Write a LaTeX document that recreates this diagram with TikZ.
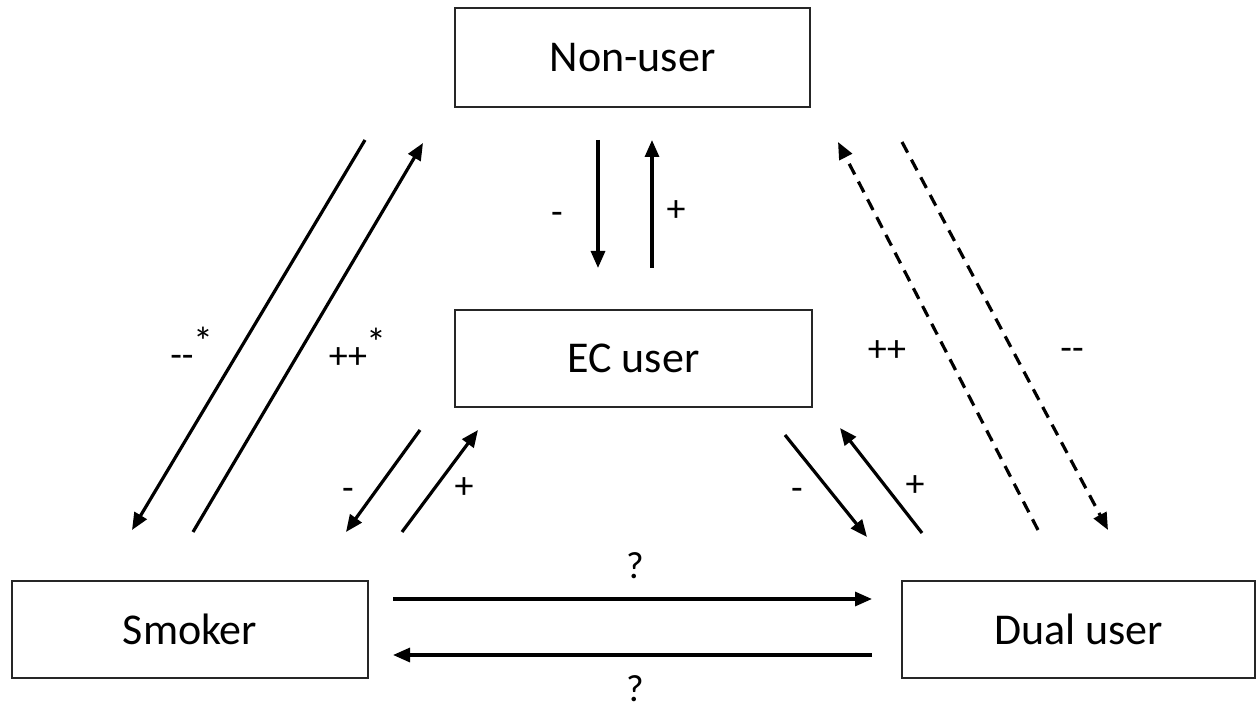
\documentclass[tikz,border=0pt]{standalone}
\usepackage{fontspec}
\setmainfont{Carlito}
\usetikzlibrary{arrows.meta}
\begin{document}
\begin{tikzpicture}[x=1pt,y=-1pt,
  statebox/.style={draw=black!85,line width=2pt,inner sep=0pt,
    font=\fontsize{44}{50}\selectfont},
  flow/.style={line width=3.2pt,-{Triangle[length=17pt,width=14pt]}},
  dflow/.style={flow,dash pattern=on 12pt off 8pt},
  lab/.style={font=\fontsize{38}{42}\selectfont,inner sep=0pt},
  star/.style={font=\fontsize{40}{44}\selectfont,inner sep=0pt}]
\useasboundingbox (0,0) rectangle (1256,708);
\node[statebox,minimum width=355pt,minimum height=99pt] (non) at (632.5,57.5) {Non-user};
\node[statebox,minimum width=357pt,minimum height=97pt] (ec) at (633.5,358.5) {EC user};
\node[statebox,minimum width=356pt,minimum height=97pt] (smk) at (190,629.5) {Smoker};
\node[statebox,minimum width=353pt,minimum height=97pt] (dual) at (1078.5,629.5) {Dual user};
% endpoints
\coordinate (a1s) at (365,140); \coordinate (a1e) at (132,530);
\coordinate (a2s) at (193,532); \coordinate (a2e) at (423,143);
\coordinate (a3s) at (598,140); \coordinate (a3e) at (598,268);
\coordinate (a4s) at (652,268); \coordinate (a4e) at (652,140);
\coordinate (a5s) at (420,430); \coordinate (a5e) at (346,532);
\coordinate (a6s) at (402,532); \coordinate (a6e) at (478,430);
\coordinate (a7s) at (785,435); \coordinate (a7e) at (867,537);
\coordinate (a8s) at (922,533); \coordinate (a8e) at (840,428);
\coordinate (a9s) at (1038,530); \coordinate (a9e) at (838,142);
\coordinate (a10s) at (902,142); \coordinate (a10e) at (1108,530);
\coordinate (a11s) at (393,599); \coordinate (a11e) at (872,599);
\coordinate (a12s) at (872,655); \coordinate (a12e) at (393,655);
\draw[flow] (a1s) -- (a1e);
\draw[flow] (a2s) -- (a2e);
\draw[flow] (a3s) -- (a3e);
\draw[flow] (a4s) -- (a4e);
\draw[flow] (a5s) -- (a5e);
\draw[flow] (a6s) -- (a6e);
\draw[flow] (a7s) -- (a7e);
\draw[flow] (a8s) -- (a8e);
\draw[dflow] (a9s) -- (a9e);
\draw[dflow] (a10s) -- (a10e);
\draw[flow] (a11s) -- (a11e);
\draw[flow] (a12s) -- (a12e);
% labels
\node[lab] (l1) at (182,361) {-{}-};
\node[star] (l1s) at (203,341) {*};
\node[lab] (l2) at (348,358) {++};
\node[star] (l2s) at (376,342) {*};
\node[lab] (l3) at (557,218) {-};
\node[lab] (l4) at (676,211) {+};
\node[lab] (l5) at (348,494) {-};
\node[lab] (l6) at (464,488) {+};
\node[lab] (l7) at (797,494) {-};
\node[lab] (l8) at (915,486) {+};
\node[lab] (l9) at (887,351) {++};
\node[lab] (l10) at (1072,354) {-{}-};
\node[lab,anchor=base] (l11) at (635,578) {?};
\node[lab,anchor=base] (l12) at (635,701) {?};
\end{tikzpicture}
\end{document}
